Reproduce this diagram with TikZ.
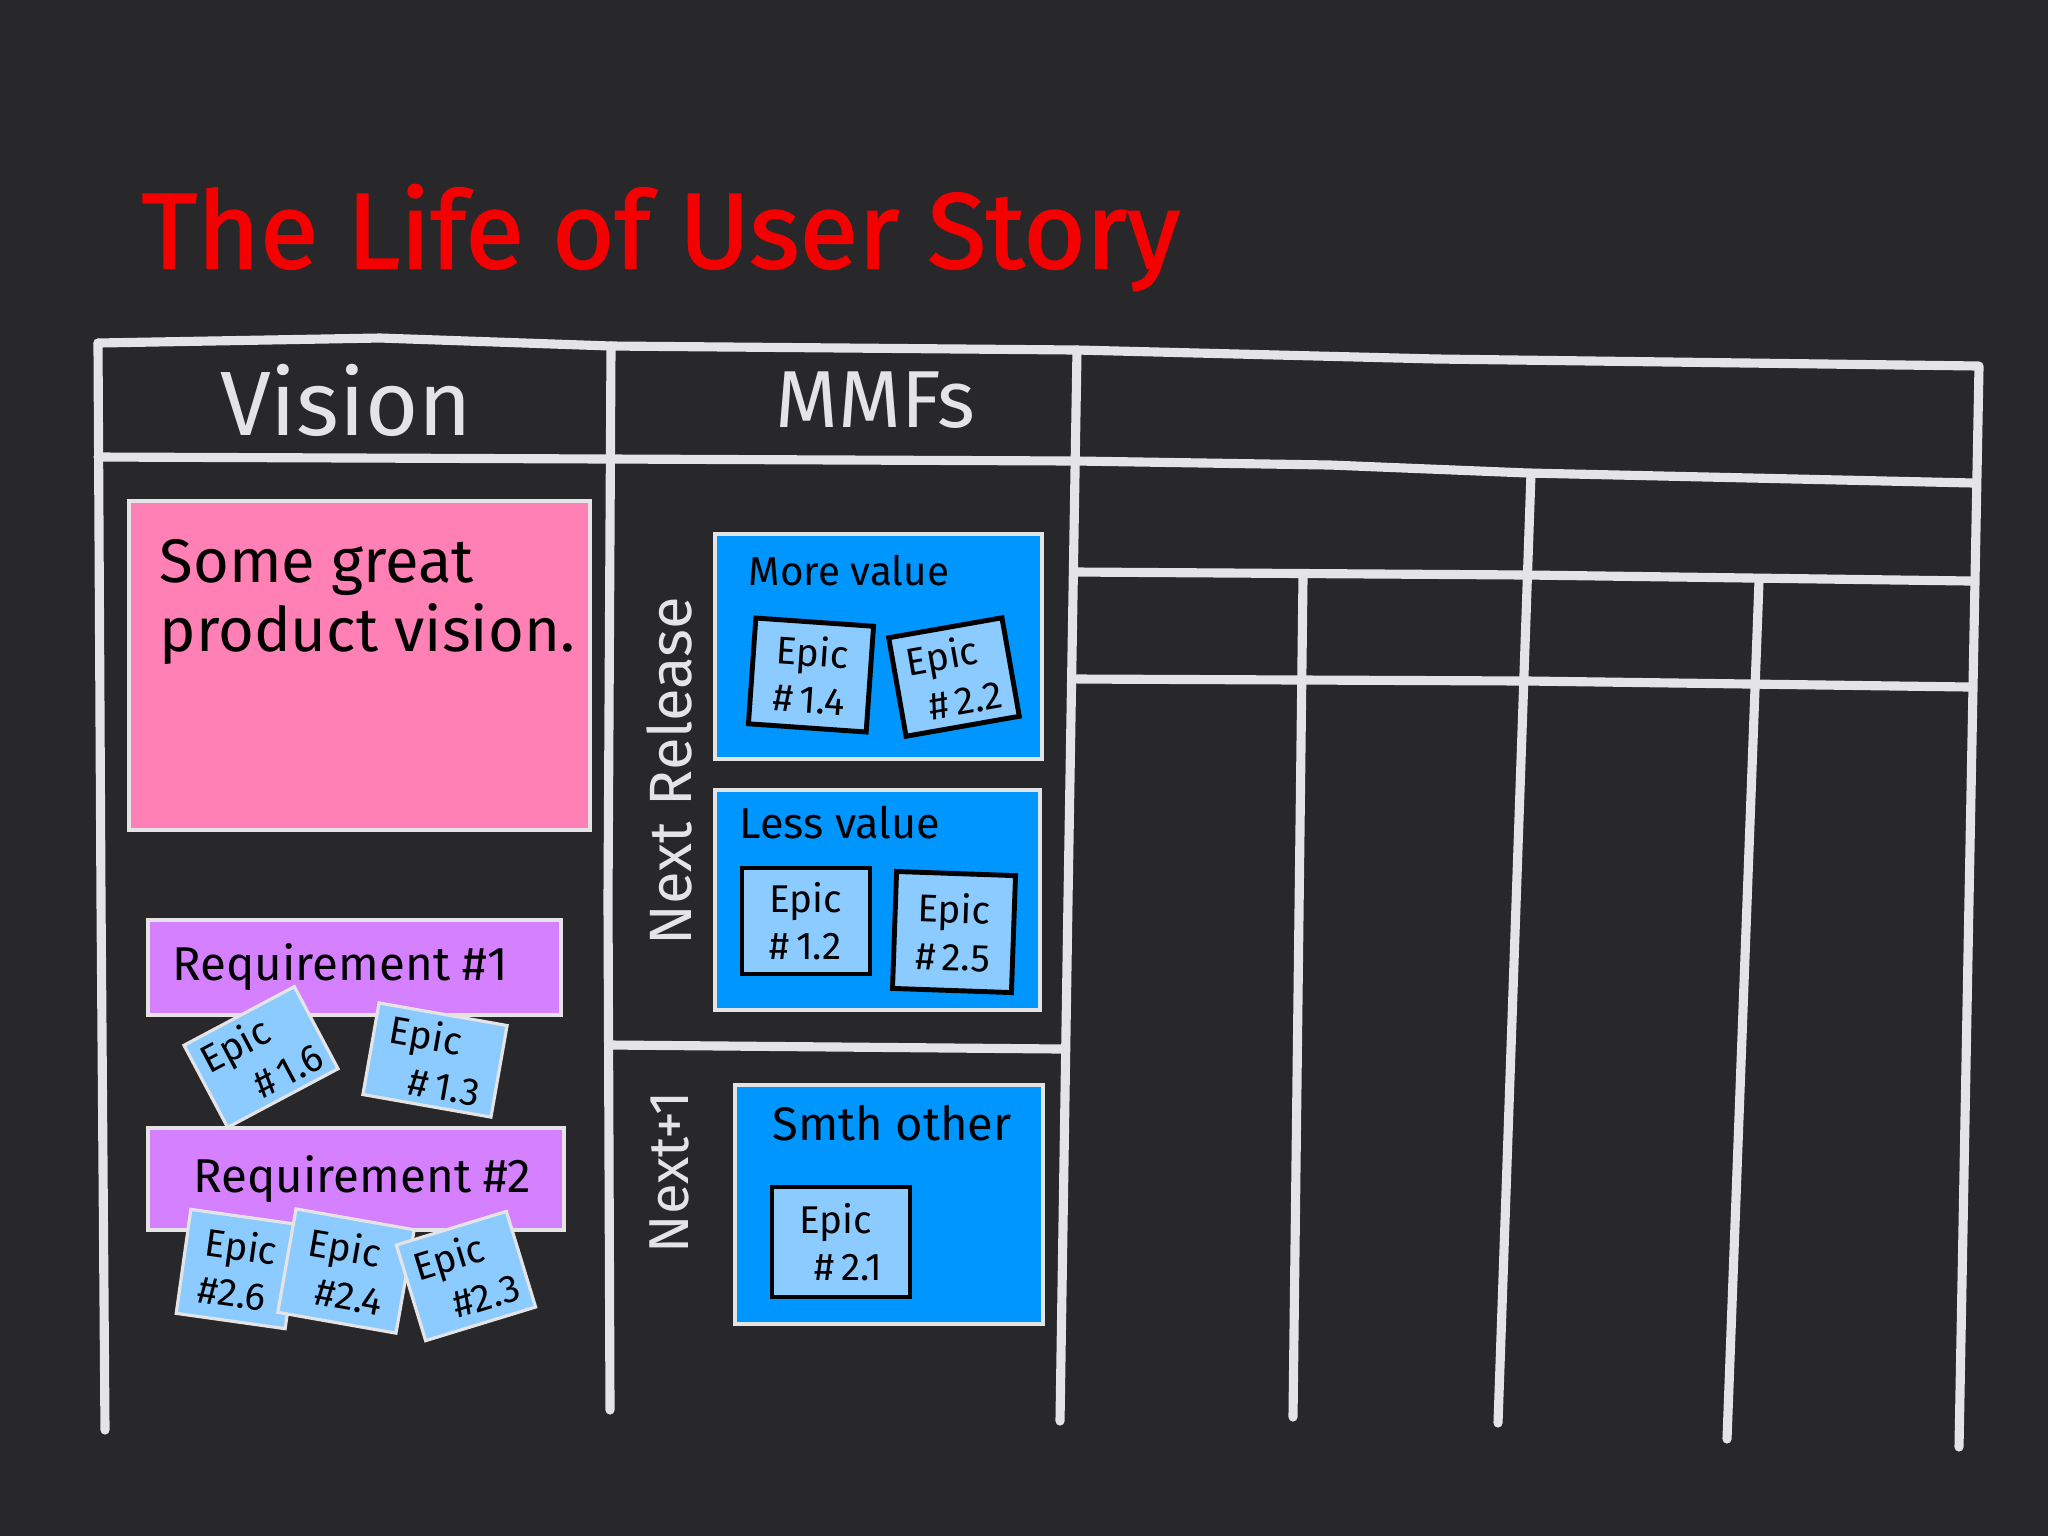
\documentclass[tikz,border=0pt]{standalone}
\usepackage{fontspec}
\setmainfont{Fira Sans}
\newfontfamily\titlefont{Fira Sans}[UprightFeatures={FakeBold=1.6}]
\definecolor{board}{RGB}{40,40,43}
\definecolor{chalk}{RGB}{228,228,230}
\definecolor{titlered}{RGB}{245,0,0}
\definecolor{visionpink}{RGB}{255,128,180}
\definecolor{reqviolet}{RGB}{213,128,255}
\definecolor{mmfblue}{RGB}{0,150,255}
\definecolor{epicblue}{RGB}{140,203,255}
\begin{document}
\begin{tikzpicture}[x=0.1mm,y=-0.1mm,
	line/.style={draw=chalk,line width=2.6pt,line cap=round,line join=round},
	sticker/.style={draw=chalk,line width=1pt,inner sep=0pt,anchor=north west},
	chalktext/.style={text=chalk,inner sep=0pt},
	epic/.style={draw=chalk,line width=0.9pt,fill=epicblue,align=left,inner sep=0pt,font=\fontsize{11}{13.5}\selectfont},
	mmfepic/.style={epic,draw=black,line width=1.4pt}]
	\fill[board] (0,0) rectangle (2048,1536);
	\node[anchor=base west,text=titlered,inner sep=0pt,font=\titlefont\fontsize{30.5}{36}\selectfont] (title) at (141,268) {The Life of User Story};
	\draw[line] (98,343) -- (380,338) -- (611,346) -- (1077,350) -- (1437,359) -- (1979,366) -- (1969,900) -- (1959,1447);
	\draw[line] (98,343) -- (101,900) -- (105,1430);
	\draw[line] (98,457) -- (611,459) -- (1077,461) -- (1330,465) -- (1528,473) -- (1974,483);
	\draw[line] (611,346) -- (608,900) -- (610,1410);
	\draw[line] (1077,350) -- (1068,900) -- (1060,1421);
	\draw[line] (611,1045) -- (1063,1049);
	\draw[line] (1077,572) -- (1528,575) -- (1971,581);
	\draw[line] (1077,679) -- (1528,681) -- (1970,687);
	\draw[line] (1531,473) -- (1498,1423);
	\draw[line] (1303,577) -- (1293,1417);
	\draw[line] (1759,581) -- (1727,1439);
	\node[chalktext,font=\fontsize{26}{30}\selectfont] (vision) at (346,400) {Vision};
	\node[chalktext,font=\fontsize{23}{28}\selectfont] (mmfs) at (875,400) {MMFs};
	\node[chalktext,rotate=90,font=\fontsize{17}{20}\selectfont] (nextrelease) at (669,771) {Next Release};
	\node[chalktext,rotate=90,font=\fontsize{16}{20}\selectfont] (nextone) at (669,1172) {Next+1};
	\node[sticker,fill=visionpink,minimum width=46.1mm,minimum height=32.9mm] (product) at (127,499) {};
	\node[anchor=north west,align=left,inner sep=0pt,font=\fontsize{17.5}{19.5}\selectfont] (producttext) at ([shift={(32,40)}]product.north west) {Some great\\product vision.};
	\node[sticker,fill=reqviolet,minimum width=41.3mm,minimum height=9.5mm] (reqone) at (146,918) {};
	\node[anchor=west,inner sep=0pt,font=\fontsize{13.5}{16}\selectfont] (reqonetext) at ([xshift=2.6mm]reqone.west) {Requirement \#1};
	\foreach \name/\x/\y/\w/\h/\r/\ind/\num in {epicsix/261/1057/12.5/9.3/28/0.9/1.6,epicthree/435/1060/13.0/9.3/-10/0.7/1.3}{
		\node[epic,minimum width=\w mm,minimum height=\h mm,rotate=\r] (\name) at (\x,\y) {Epic\\\hspace*{\ind em}\#\,\num};
	}
	\node[sticker,fill=reqviolet,minimum width=41.6mm,minimum height=10.2mm] (reqtwo) at (146,1126) {};
	\node[anchor=west,inner sep=0pt,font=\fontsize{13.5}{16}\selectfont] (reqtwotext) at ([xshift=4.7mm]reqtwo.west) {Requirement \#2};
	\foreach \name/\x/\y/\w/\h/\r/\ind/\num in {epictwosix/238/1269/11.0/10.5/-8/0/2.6,epictwofour/346/1271/12.0/10.5/-10/0.4/2.4,epictwothree/466/1276/11.5/10.0/17/0.7/2.3}{
		\node[epic,minimum width=\w mm,minimum height=\h mm,rotate=\r] (\name) at (\x,\y) {Epic\\\hspace*{\ind em}\#\num};
	}
	\node[sticker,fill=mmfblue,minimum width=32.7mm,minimum height=22.5mm] (more) at (713,532) {};
	\node[anchor=west,inner sep=0pt,font=\fontsize{11.5}{14}\selectfont] (moretext) at ([shift={(35,39)}]more.north west) {More value};
	\node[sticker,fill=mmfblue,minimum width=32.5mm,minimum height=22.0mm] (less) at (713,788) {};
	\node[anchor=west,inner sep=0pt,font=\fontsize{12.3}{14}\selectfont] (lesstext) at ([shift={(26,35)}]less.north west) {Less value};
	\node[sticker,fill=mmfblue,minimum width=30.8mm,minimum height=23.9mm] (smth) at (733,1083) {};
	\node[anchor=west,inner sep=0pt,font=\fontsize{13.4}{16}\selectfont] (smthtext) at ([shift={(39,40)}]smth.north west) {Smth other};
	\foreach \name/\x/\y/\w/\h/\r/\ind/\num in {epiconefour/811/675/11.8/10.6/-4/0/1.4,epictwotwo/954/677/11.5/10.0/10/0.4/2.2,epiconetwo/806/921/12.8/10.6/0/0/1.2,epictwofive/954/932/11.9/11.7/-2/0/2.5,epictwoone/841/1242/13.8/11.0/0/0.4/2.1}{
		\node[mmfepic,minimum width=\w mm,minimum height=\h mm,rotate=\r] (\name) at (\x,\y) {Epic\\\hspace*{\ind em}\#\,\num};
	}
\end{tikzpicture}
\end{document}
